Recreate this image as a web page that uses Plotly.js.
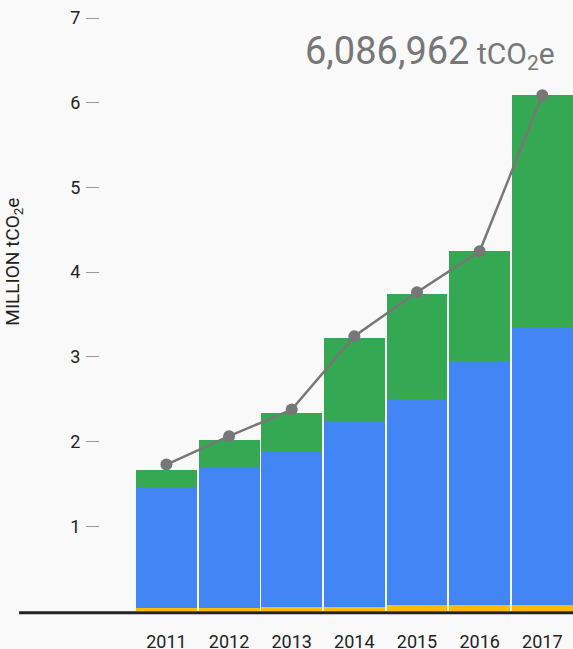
<!DOCTYPE html>
<html>
<head>
<meta charset="utf-8">
<script src="https://cdn.plot.ly/plotly-3.0.1.min.js"></script>
<style>
  html, body { margin: 0; padding: 0; background: #f9f9f9; }
  #chart { width: 573px; height: 649px; }
</style>
</head>
<body>
<div id="chart"></div>
<script>
const years = [2011, 2012, 2013, 2014, 2015, 2016, 2017];
const yellowSeries = [0.035, 0.035, 0.05, 0.05, 0.07, 0.07, 0.07];
const blueSeries = [1.426, 1.662, 1.824, 2.186, 2.434, 2.886, 3.284];
const greenSeries = [0.209, 0.327, 0.468, 0.991, 1.243, 1.298, 2.733];
const totalSeries = [1.729, 2.063, 2.378, 3.243, 3.762, 4.246, 6.087];
const yTickVals = [1, 2, 3, 4, 5, 6, 7];
const yTickText = ['1', '2', '3', '4', '5', '6', '7'];
const headline = '6,086,962';

const FONT = 'Roboto, "Open Sans", sans-serif';

const traces = [
  { type: 'bar', x: years, y: yellowSeries, marker: { color: '#FBBC04' }, hoverinfo: 'skip' },
  { type: 'bar', x: years, y: blueSeries, marker: { color: '#4285F4' }, hoverinfo: 'skip' },
  { type: 'bar', x: years, y: greenSeries, marker: { color: '#34A853' }, hoverinfo: 'skip' },
  { type: 'scatter', mode: 'lines+markers', x: years, y: totalSeries,
    line: { color: '#777777', width: 2.5 },
    marker: { color: '#777777', size: 12 }, hoverinfo: 'skip' }
];

const layout = {
  width: 573, height: 649,
  margin: { l: 100, r: 0, t: 18, b: 38 },
  paper_bgcolor: '#f9f9f9',
  plot_bgcolor: '#f9f9f9',
  barmode: 'stack',
  bargap: 0.028,
  showlegend: false,
  font: { family: FONT, color: '#222' },
  xaxis: {
    range: [2009.94, 2017.49],
    tickvals: years,
    ticktext: years.map(String),
    showgrid: false, zeroline: false, showline: false,
    ticks: '', ticklabelstandoff: 18,
    tickfont: { size: 18, color: '#222', family: FONT },
    automargin: false, fixedrange: true
  },
  yaxis: {
    range: [0, 7],
    tickvals: yTickVals,
    ticktext: yTickText,
    showgrid: false, zeroline: false, showline: false,
    ticks: 'outside', ticklen: 13, tickwidth: 1, tickcolor: '#999',
    ticklabelstandoff: 2,
    tickfont: { size: 18, color: '#222', family: FONT },
    automargin: false, fixedrange: true
  },
  shapes: [
    { type: 'line', xref: 'paper', yref: 'paper', x0: -0.171, x1: 1, y0: -0.003, y1: -0.003,
      line: { color: '#222', width: 3 } }
  ],
  annotations: [
    { xref: 'paper', yref: 'paper', x: 0.966, y: 0.943, xanchor: 'right', yanchor: 'middle',
      showarrow: false,
      text: headline + '<span style="font-size:30px"> tCO<sub>2</sub>e</span>',
      font: { size: 38, color: '#777777', family: FONT } },
    { xref: 'paper', yref: 'paper', x: -0.182, y: 0.589, xanchor: 'center', yanchor: 'middle',
      showarrow: false, textangle: -90,
      text: 'MILLION tCO<sub>2</sub>e',
      font: { size: 19, color: '#222', family: FONT } }
  ]
};

Plotly.newPlot('chart', traces, layout, { displayModeBar: false, staticPlot: true });
</script>
</body>
</html>
